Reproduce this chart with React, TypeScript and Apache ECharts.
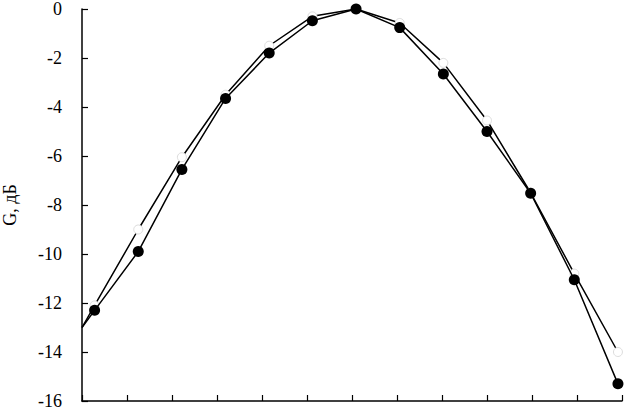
import React, { useEffect, useRef } from "react";
import * as echarts from "echarts";

// x positions (in axis-tick units) of the measured points; first is the clipped start of the curves
const xPositions = [0, 0.28, 1.25, 2.22, 3.19, 4.16, 5.12, 6.09, 7.06, 8.03, 9.0, 9.97, 10.94, 11.91];
const openValues = [-13.0, -12.1, -9.0, -6.05, -3.5, -1.5, -0.3, 0, -0.57, -2.2, -4.55, -7.5, -10.8, -14.0];
const filledValues = [-13.0, -12.3, -9.9, -6.55, -3.65, -1.8, -0.48, 0, -0.76, -2.65, -5.0, -7.52, -11.05, -15.3];
const yMin = -16;
const yMax = 0;
const yStep = 2;
const yAxisName = "G, дБ";

export default function App() {
  const ref = useRef<HTMLDivElement>(null);
  useEffect(() => {
    if (!ref.current) return;
    const chart = echarts.init(ref.current, null, { renderer: "svg" });
    const mk = (vals: number[]) =>
      vals.map((v, i) =>
        i === 0 ? { value: [xPositions[i], v], symbol: "none" } : { value: [xPositions[i], v] }
      );
    chart.setOption({
      animation: false,
      backgroundColor: "#fff",
      grid: { left: 82, right: 2, top: 9, bottom: 10, containLabel: false, outerBoundsMode: "none" },
      xAxis: {
        type: "value",
        min: 0,
        max: 12,
        interval: 1,
        axisLine: { show: true, onZero: false, lineStyle: { color: "#000", width: 1.5 } },
        axisTick: { show: true, inside: true, length: 6, lineStyle: { color: "#000", width: 1.2 } },
        axisLabel: { show: false },
        splitLine: { show: false },
      },
      yAxis: {
        type: "value",
        min: yMin,
        max: yMax,
        interval: yStep,
        name: yAxisName,
        nameLocation: "middle",
        nameGap: 63,
        nameRotate: 90,
        nameTextStyle: { fontFamily: "Liberation Serif", fontSize: 18, color: "#000" },
        axisLine: { show: true, lineStyle: { color: "#000", width: 1.5 } },
        axisTick: { show: true, inside: true, length: 6, lineStyle: { color: "#000", width: 1.2 } },
        axisLabel: {
          fontFamily: "Liberation Serif",
          fontSize: 18,
          lineHeight: 12,
          color: "#000",
          margin: 20,
        },
        splitLine: { show: false },
      },
      series: [
        {
          type: "line",
          data: mk(openValues),
          symbol: "circle",
          symbolSize: 9,
          itemStyle: { color: "#fff", borderColor: "#ddd", borderWidth: 1 },
          lineStyle: { color: "#000", width: 1.5 },
          clip: true,
          z: 2,
        },
        {
          type: "line",
          data: mk(filledValues),
          symbol: "circle",
          symbolSize: 11,
          itemStyle: { color: "#000", borderColor: "#000", borderWidth: 0 },
          lineStyle: { color: "#000", width: 1.5 },
          clip: true,
          z: 3,
        },
      ],
    });
    return () => chart.dispose();
  }, []);
  return (
    <div
      ref={ref}
      style={{ width: 624, height: 411, position: "absolute", left: 0, top: 0 }}
    />
  );
}
